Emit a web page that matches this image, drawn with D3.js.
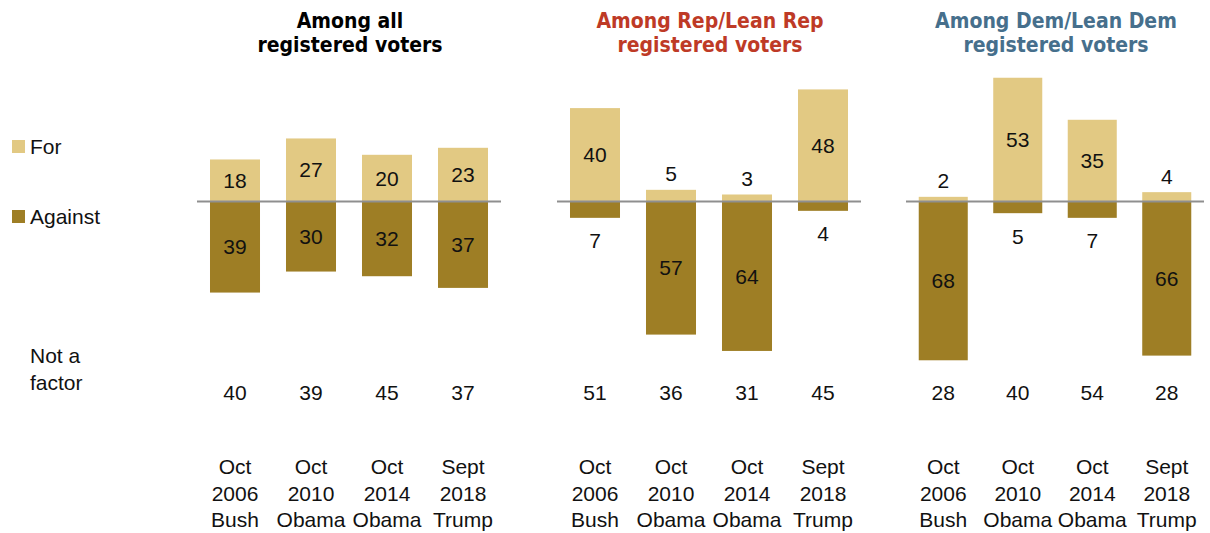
<!DOCTYPE html>
<html><head><meta charset="utf-8">
<script src="https://cdn.jsdelivr.net/npm/d3@7"></script>
<style>
body{margin:0;background:#fff;}
svg{display:block;}
</style></head>
<body>
<svg id="chart" width="1210" height="533"></svg>
<script>
const categories = ["Oct|2006|Bush","Oct|2010|Obama","Oct|2014|Obama","Sept|2018|Trump"];
const panelTitles = [["Among all","registered voters"],["Among Rep/Lean Rep","registered voters"],["Among Dem/Lean Dem","registered voters"]];
const forAll = [18,27,20,23];
const againstAll = [39,30,32,37];
const notFactorAll = [40,39,45,37];
const forRep = [40,5,3,48];
const againstRep = [7,57,64,4];
const notFactorRep = [51,36,31,45];
const forDem = [2,53,35,4];
const againstDem = [68,5,7,66];
const notFactorDem = [28,40,54,28];
const legendLabels = ["For","Against"];
const notFactorLabel = ["Not a","factor"];

const panels = [
  {title: panelTitles[0], color:"#000000", f: forAll, a: againstAll, n: notFactorAll, range:[197,501]},
  {title: panelTitles[1], color:"#BE3A26", f: forRep, a: againstRep, n: notFactorRep, range:[557,861]},
  {title: panelTitles[2], color:"#466F8C", f: forDem, a: againstDem, n: notFactorDem, range:[906,1204]}
];

const FOR_C = "#E2C983", AG_C = "#9E7E25";
const baseY = 201.5;
const svg = d3.select("#chart");
const font = "'Liberation Sans', Arial, sans-serif";
const titleFont = "'DejaVu Sans Condensed', 'Liberation Sans Narrow', sans-serif";

const y = d3.scaleLinear().domain([-70, 70]).range([baseY + 70*2.335, baseY - 70*2.335]);

panels.forEach(p => {
  const x = d3.scaleBand().domain(categories).range(p.range).paddingInner(0.342).paddingOuter(0.171);
  const g = svg.append("g");
  const cx = (p.range[0] + p.range[1]) / 2 + 1;
  const t = g.append("text").attr("x", cx).attr("text-anchor","middle")
    .attr("font-family", titleFont).attr("font-stretch","condensed").attr("font-weight","bold").attr("font-size", 21).attr("fill", p.color);
  t.append("tspan").attr("x", cx).attr("y", 27.5).text(p.title[0]);
  t.append("tspan").attr("x", cx).attr("y", 51.5).text(p.title[1]);

  g.selectAll(".f").data(categories).join("rect")
    .attr("x", d => x(d)).attr("width", x.bandwidth())
    .attr("y", (d,i) => y(p.f[i])).attr("height", (d,i) => y(0) - y(p.f[i]))
    .attr("fill", FOR_C);
  g.selectAll(".a").data(categories).join("rect")
    .attr("x", d => x(d)).attr("width", x.bandwidth())
    .attr("y", y(0)).attr("height", (d,i) => y(-p.a[i]) - y(0))
    .attr("fill", AG_C);
  g.append("line").attr("x1", p.range[0]).attr("x2", p.range[1]).attr("y1", baseY).attr("y2", baseY)
    .attr("stroke", "#8f8f8f").attr("stroke-width", 2);

  const lab = (cxv, cyv, txt) => g.append("text").attr("x", cxv).attr("y", cyv).attr("dy","0.35em")
    .attr("text-anchor","middle").attr("font-family", font).attr("font-size", 21).attr("fill","#111").text(txt);
  categories.forEach((c,i) => {
    const mx = x(c) + x.bandwidth()/2;
    const fv = p.f[i], av = p.a[i];
    if (fv >= 10) lab(mx, (y(fv)+y(0))/2, fv); else lab(mx, y(fv) - 16, fv);
    if (av >= 10) lab(mx, (y(-av)+y(0))/2, av); else lab(mx, y(-av) + 23, av);
    lab(mx, 393, p.n[i]);
    c.split("|").forEach((s,j) => lab(mx, 467 + j*26.5, s));
  });
});

const leg = svg.append("g");
legendLabels.forEach((l,i) => {
  const yy = i === 0 ? 146.5 : 216.5;
  leg.append("rect").attr("x", 12).attr("y", yy-6.5).attr("width", 13).attr("height", 13).attr("fill", i===0?FOR_C:AG_C);
  leg.append("text").attr("x", 30).attr("y", yy).attr("dy","0.35em").attr("font-family", font).attr("font-size",21).attr("fill","#111").text(l);
});
notFactorLabel.forEach((l,i) => {
  leg.append("text").attr("x", 30).attr("y", 356 + i*27).attr("dy","0.35em").attr("font-family", font).attr("font-size",21).attr("fill","#111").text(l);
});
</script>
</body></html>
